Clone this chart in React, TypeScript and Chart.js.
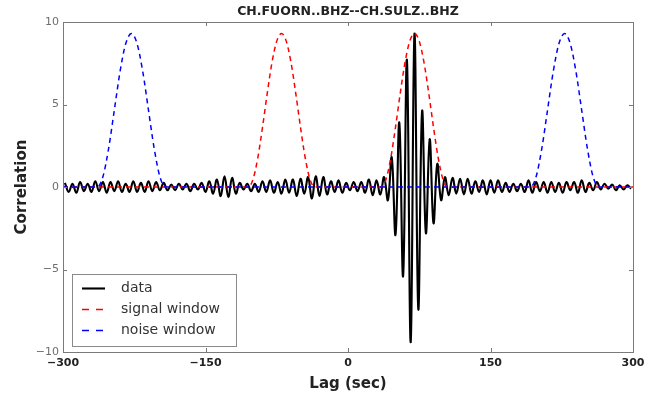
import React, { useEffect, useRef } from "react";
import { Chart, registerables } from "chart.js";

Chart.register(...registerables);

const chartTitle = "CH.FUORN..BHZ--CH.SULZ..BHZ";
const xLabel = "Lag (sec)";
const yLabel = "Correlation";
const xTicks = [-300, -150, 0, 150, 300];
const yTicks = [-10, -5, 0, 5, 10];
const seriesNames = ["data", "signal window", "noise window"];

const dataLags = [
  -298, -294, -290, -286, -282, -278, -274, -270, -266, -262,
  -258, -254, -250, -246, -242, -238, -234, -230, -226, -222,
  -218, -214, -210, -206, -202, -198, -194, -190, -186, -182,
  -178, -174, -170, -166, -162, -158, -154, -150, -146, -142,
  -138, -134, -130, -126, -122, -118, -114, -110, -106, -102,
  -98, -94, -90, -86, -82, -78, -74, -70, -66, -62,
  -58, -54, -50, -46, -42, -38, -34, -30, -26, -22,
  -18, -14, -10, -6, -2, 2, 6, 10, 14, 18,
  22, 26, 30, 34, 38, 42, 46, 50, 54, 58,
  62, 66, 70, 74, 78, 82, 86, 90, 94, 98,
  102, 106, 110, 114, 118, 122, 126, 130, 134, 138,
  142, 146, 150, 154, 158, 162, 166, 170, 174, 178,
  182, 186, 190, 194, 198, 202, 206, 210, 214, 218,
  222, 226, 230, 234, 238, 242, 246, 250, 254, 258,
  262, 266, 270, 274, 278, 282, 286, 290, 294, 298,
];

const dataValues = [
  0.25, -0.3, 0.2, -0.35, 0.3, -0.25, 0.2, -0.3, 0.35, -0.25,
  0.3, -0.35, 0.3, -0.25, 0.35, -0.3, 0.2, -0.3, 0.35, -0.3,
  0.25, -0.3, 0.35, -0.25, 0.3, -0.2, 0.25, -0.2, 0.15, -0.2,
  0.2, -0.15, 0.2, -0.25, 0.2, -0.15, 0.25, -0.3, 0.35, -0.4,
  0.45, -0.55, 0.65, -0.6, 0.55, -0.4, 0.25, -0.15, 0.2, -0.25,
  0.2, -0.3, 0.35, -0.3, 0.4, -0.35, 0.3, -0.4, 0.45, -0.35,
  0.45, -0.55, 0.5, -0.4, 0.6, -0.7, 0.65, -0.55, 0.6, -0.45,
  0.35, -0.3, 0.4, -0.35, 0.25, -0.2, 0.3, -0.25, 0.3, -0.35,
  0.45, -0.5, 0.4, -0.45, 0.6, -0.8, 1.8, -2.9, 3.9, -5.4,
  7.7, -9.4, 9.3, -7.4, 4.6, -2.8, 2.9, -2.2, 1.4, -0.8,
  0.6, -0.5, 0.55, -0.4, 0.5, -0.45, 0.5, -0.4, 0.35, -0.3,
  0.4, -0.45, 0.4, -0.35, 0.4, -0.3, 0.25, -0.3, 0.2, -0.25,
  0.2, -0.3, 0.4, -0.35, 0.3, -0.25, 0.3, -0.35, 0.3, -0.3,
  0.25, -0.35, 0.3, -0.2, 0.3, -0.35, 0.4, -0.3, 0.25, -0.2,
  0.3, -0.15, 0.2, -0.1, 0.15, -0.2, 0.1, -0.15, 0.1, -0.1,
];

const signalLags = [
  -300, -105, -100, -95, -90, -85, -80, -75, -70, -65, -60, -55, -50, -45, -40, -35,
  35, 40, 45, 50, 55, 60, 65, 70, 75, 80, 85, 90, 95, 100, 105, 300,
];
const signalValues = [
  0, 0, 0.46, 1.75, 3.62, 5.68, 7.55, 8.84, 9.3, 8.84, 7.55, 5.68, 3.62, 1.75, 0.46, 0,
  0, 0.46, 1.75, 3.62, 5.68, 7.55, 8.84, 9.3, 8.84, 7.55, 5.68, 3.62, 1.75, 0.46, 0, 0,
];

const noiseLags = [
  -300, -264, -258, -252, -246, -240, -234, -228, -222, -216, -210, -204, -198, -192,
  192, 198, 204, 210, 216, 222, 228, 234, 240, 246, 252, 258, 264, 300,
];
const noiseValues = [
  0, 0, 0.62, 2.33, 4.65, 6.98, 8.68, 9.3, 8.68, 6.98, 4.65, 2.33, 0.62, 0,
  0, 0.62, 2.33, 4.65, 6.98, 8.68, 9.3, 8.68, 6.98, 4.65, 2.33, 0.62, 0, 0,
];

const FONT = '"DejaVu Sans", "Liberation Sans", sans-serif';

function fmt(v: number): string {
  return v < 0 ? "\u2212" + Math.abs(v) : String(v);
}

function toPoints(xs: number[], ys: number[]) {
  return xs.map((x, i) => ({ x, y: ys[i] }));
}

const titlePlugin = {
  id: "plotTitle",
  afterDraw(chart: any) {
    const { ctx, chartArea } = chart;
    ctx.save();
    ctx.fillStyle = "#222222";
    ctx.font = "bold 12.5px " + FONT;
    ctx.textAlign = "center";
    ctx.textBaseline = "middle";
    ctx.fillText(chartTitle, (chartArea.left + chartArea.right) / 2, 12);
    ctx.restore();
  },
};

const framePlugin = {
  id: "frameTicks",
  afterDatasetsDraw(chart: any) {
    const { ctx, chartArea } = chart;
    const { left, right, top, bottom } = chartArea;
    const xs = chart.scales.x;
    const ys = chart.scales.y;
    ctx.save();
    ctx.strokeStyle = "#7a7a7a";
    ctx.lineWidth = 1;
    ctx.setLineDash([]);
    ctx.strokeRect(Math.round(left) + 0.5, Math.round(top) + 0.5, Math.round(right - left), Math.round(bottom - top));
    const tl = 4;
    ctx.beginPath();
    xTicks.forEach((t) => {
      const px = Math.round(xs.getPixelForValue(t)) + 0.5;
      ctx.moveTo(px, bottom);
      ctx.lineTo(px, bottom - tl);
      ctx.moveTo(px, top);
      ctx.lineTo(px, top + tl);
    });
    yTicks.forEach((t) => {
      const py = Math.round(ys.getPixelForValue(t)) + 0.5;
      ctx.moveTo(left, py);
      ctx.lineTo(left + tl, py);
      ctx.moveTo(right, py);
      ctx.lineTo(right - tl, py);
    });
    ctx.stroke();
    ctx.restore();
  },
};

const legendPlugin = {
  id: "boxLegend",
  afterDraw(chart: any) {
    const { ctx, chartArea } = chart;
    const w = 164;
    const h = 72;
    const x0 = Math.round(chartArea.left) + 9;
    const y0 = Math.round(chartArea.bottom) - 6 - h;
    ctx.save();
    ctx.fillStyle = "#ffffff";
    ctx.fillRect(x0, y0, w, h);
    ctx.strokeStyle = "#8a8a8a";
    ctx.lineWidth = 1;
    ctx.setLineDash([]);
    ctx.strokeRect(x0 + 0.5, y0 + 0.5, w, h);
    const legendDash: number[][] = [[], [7, 7], [7, 7]];
    chart.data.datasets.forEach((ds: any, i: number) => {
      const cy = y0 + 14.5 + i * 21;
      ctx.beginPath();
      ctx.setLineDash(legendDash[i]);
      ctx.strokeStyle = ds.borderColor;
      ctx.lineWidth = ds.borderWidth;
      ctx.moveTo(x0 + 10, cy);
      ctx.lineTo(x0 + 33, cy);
      ctx.stroke();
      ctx.setLineDash([]);
      ctx.fillStyle = "#333333";
      ctx.font = "14px " + FONT;
      ctx.textBaseline = "middle";
      ctx.textAlign = "left";
      ctx.fillText(ds.label, x0 + 49, cy);
    });
    ctx.restore();
  },
};

export default function App() {
  const ref = useRef<HTMLCanvasElement | null>(null);

  useEffect(() => {
    if (!ref.current) return;
    const chart = new Chart(ref.current, {
      type: "line",
      data: {
        datasets: [
          {
            label: seriesNames[0],
            data: toPoints(dataLags, dataValues),
            borderColor: "#000000",
            borderWidth: 2.1,
            pointRadius: 0,
            tension: 0.4,
            fill: false,
            order: 3,
          },
          {
            label: seriesNames[1],
            data: toPoints(signalLags, signalValues),
            borderColor: "#ff0000",
            borderWidth: 1.5,
            borderDash: [5, 4],
            pointRadius: 0,
            cubicInterpolationMode: "monotone",
            fill: false,
            order: 2,
          },
          {
            label: seriesNames[2],
            data: toPoints(noiseLags, noiseValues),
            borderColor: "#0000ff",
            borderWidth: 1.5,
            borderDash: [5, 4],
            pointRadius: 0,
            cubicInterpolationMode: "monotone",
            fill: false,
            order: 1,
          },
        ],
      },
      options: {
        animation: false,
        responsive: true,
        maintainAspectRatio: false,
        layout: { padding: { left: 0, right: 25, top: 22, bottom: 0 } },
        plugins: {
          legend: { display: false },
          tooltip: { enabled: false },
          title: { display: false },
        },
        scales: {
          x: {
            type: "linear",
            min: -300,
            max: 300,
            afterBuildTicks: (s: any) => {
              s.ticks = xTicks.map((v) => ({ value: v }));
            },
            afterFit: (s: any) => {
              s.height = 45;
            },
            grid: { display: false, drawTicks: false },
            border: { display: false },
            ticks: {
              padding: 5,
              color: "#222222",
              font: { family: FONT, size: 11, weight: "bold" },
              maxRotation: 0,
              callback: (v: any) => fmt(Number(v)),
            },
            title: {
              display: true,
              text: xLabel,
              color: "#222222",
              font: { family: FONT, size: 15, weight: "bold" },
              padding: { top: 0, bottom: 4 },
            },
          },
          y: {
            type: "linear",
            min: -10,
            max: 10,
            afterBuildTicks: (s: any) => {
              s.ticks = yTicks.map((v) => ({ value: v }));
            },
            afterFit: (s: any) => {
              s.width = 63;
            },
            grid: { display: false, drawTicks: false },
            border: { display: false },
            ticks: {
              padding: 4,
              color: "#6e6e6e",
              font: { family: FONT, size: 11 },
              callback: (v: any) => fmt(Number(v)),
            },
            title: {
              display: true,
              text: yLabel,
              color: "#222222",
              font: { family: FONT, size: 15, weight: "bold" },
              padding: { top: 13, bottom: 0 },
            },
          },
        },
      },
      plugins: [framePlugin, legendPlugin, titlePlugin],
    } as any);
    return () => chart.destroy();
  }, []);

  return (
    <div style={{ position: "fixed", left: 0, top: 0, width: 658, height: 397, background: "#ffffff" }}>
      <canvas ref={ref} />
    </div>
  );
}
